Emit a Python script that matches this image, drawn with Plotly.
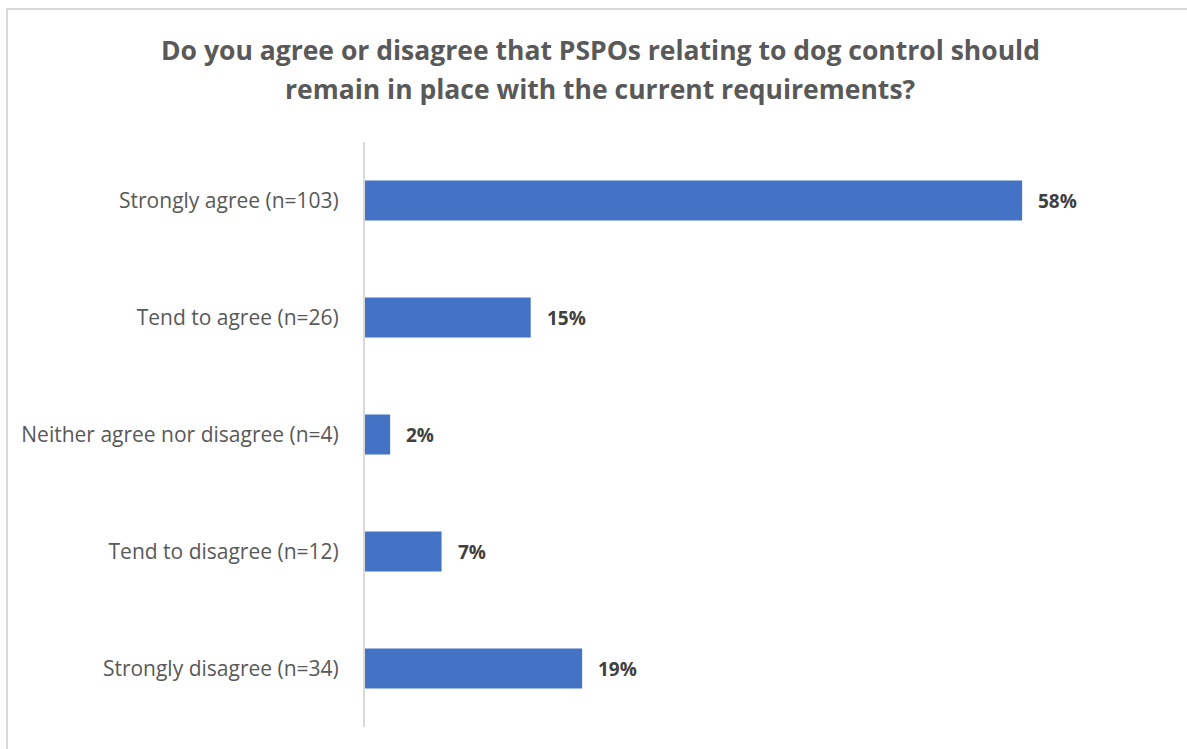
import plotly.graph_objects as go

categories = [
    "Strongly agree (n=103)",
    "Tend to agree (n=26)",
    "Neither agree nor disagree (n=4)",
    "Tend to disagree (n=12)",
    "Strongly disagree (n=34)",
]
values = [57.5, 14.5, 2.2, 6.7, 19.0]
labels = ["58%", "15%", "2%", "7%", "19%"]
title_lines = [
    "Do you agree or disagree that PSPOs relating to dog control should",
    "remain in place with the current requirements?",
]

W, H = 1187, 749
L, R, T, B = 365, 22, 142, 22
pw, ph = W - L - R, H - T - B

fig = go.Figure()
fig.add_trace(go.Bar(
    y=categories, x=values, orientation="h",
    marker=dict(color="#4472C4", line=dict(width=0)),
    hoverinfo="skip",
))

for c, v, t in zip(categories, values, labels):
    fig.add_annotation(
        x=v, y=c, text="<b>" + t + "</b>", showarrow=False,
        xanchor="left", xshift=14,
        font=dict(family="Open Sans", size=19, color="#404040"),
    )

for i, line in enumerate(title_lines):
    fig.add_annotation(
        xref="paper", yref="paper",
        x=(600 - L) / pw, y=(H - B - (50 + 39 * i)) / ph,
        xanchor="center", yanchor="middle", showarrow=False,
        text="<b>" + line + "</b>",
        font=dict(family="Open Sans", size=26.5, color="#595959"),
    )

# outer chart border (light gray)
fig.add_shape(
    type="rect", xref="paper", yref="paper",
    x0=(7 - L) / pw, x1=(W + 20 - L) / pw,
    y0=-(B + 20) / ph, y1=(H - B - 9) / ph,
    line=dict(color="#D9D9D9", width=2), fillcolor="rgba(0,0,0,0)",
    layer="below",
)

fig.update_layout(
    width=W, height=H,
    margin=dict(l=L, r=R, t=T, b=B, autoexpand=False),
    paper_bgcolor="white", plot_bgcolor="white",
    showlegend=False,
    bargap=0.66,
    xaxis=dict(range=[0, 70], visible=False, fixedrange=True),
    yaxis=dict(
        autorange="reversed", showgrid=False, ticks="",
        showline=True, linecolor="#D9D9D9", linewidth=2,
        ticklabelstandoff=20,
        tickfont=dict(family="Open Sans", size=21, color="#595959"),
    ),
)

fig.write_html("out.html")
